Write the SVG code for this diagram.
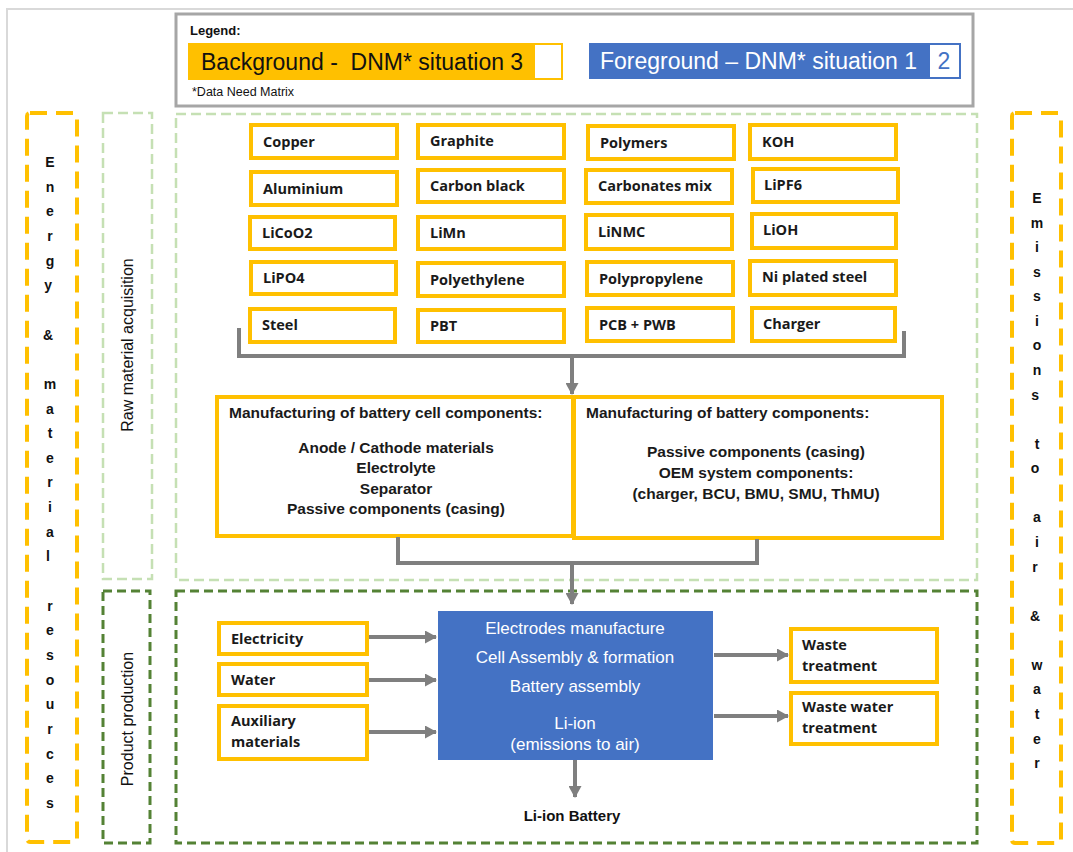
<svg xmlns="http://www.w3.org/2000/svg" width="1073" height="852" viewBox="0 0 1073 852">
<defs>
<marker id="ah" markerUnits="userSpaceOnUse" markerWidth="12" markerHeight="13" refX="11" refY="6.5" orient="auto" viewBox="0 0 12 13">
<path d="M0,0 L12,6.5 L0,13 Z" fill="#7F7F7F"/>
</marker>
<style>
.mat rect{fill:#fff;stroke:#FFC000;stroke-width:4}
.mat text{font-family:"Open Sans","Liberation Sans",sans-serif;font-weight:700;font-size:14.5px;fill:#1a1a1a}
.mf{font-family:"Liberation Sans",Arial,sans-serif;font-weight:700;font-size:15.5px;fill:#1a1a1a}
.blue{font-family:"Liberation Sans",Arial,sans-serif;font-size:17px;fill:#fff}
.side{font-family:"Liberation Sans",Arial,sans-serif;font-weight:700;font-size:14px;fill:#111}
.stage{font-family:"Liberation Sans",Arial,sans-serif;font-size:16px;fill:#111}
.conn{fill:none;stroke:#7F7F7F;stroke-width:4}
.leg{font-family:"Liberation Sans",Arial,sans-serif;font-size:23px}
</style>
</defs>
<rect width="1073" height="852" fill="#fff"/>
<path d="M7,852 V9 H1073" fill="none" stroke="#D9D9D9" stroke-width="2"/>

<g id="legend">
<rect x="176" y="14" width="797" height="92" fill="#fff" stroke="#A6A6A6" stroke-width="3"/>
<text x="190" y="35" font-family="Liberation Sans,Arial,sans-serif" font-weight="700" font-size="13" fill="#111">Legend:</text>
<rect x="188" y="43" width="346" height="37" fill="#FFC000"/>
<rect x="534" y="44" width="28" height="35" fill="#fff" stroke="#FFC000" stroke-width="2"/>
<text class="leg" x="201" y="70" fill="#111" xml:space="preserve">Background -  DNM* situation 3</text>
<rect x="589" y="43" width="340" height="36" fill="#4472C4"/>
<rect x="929" y="44" width="31" height="34" fill="#fff" stroke="#4472C4" stroke-width="2"/>
<text class="leg" x="600" y="69" fill="#fff">Foreground – DNM* situation 1</text>
<text class="leg" x="944" y="69" text-anchor="middle" fill="#4472C4">2</text>
<text x="192" y="96" font-family="Liberation Sans,Arial,sans-serif" font-size="12.5" fill="#111">*Data Need Matrix</text>
</g>

<g id="energy-materials">
<rect x="27" y="113" width="50" height="729" rx="3" fill="none" stroke="#FFC000" stroke-width="4" stroke-dasharray="17 9"/>
<text class="side" text-anchor="middle">
<tspan x="50" y="167">E</tspan><tspan x="50" y="191.6">n</tspan><tspan x="50" y="216.3">e</tspan><tspan x="50" y="241">r</tspan><tspan x="50" y="265.6">g</tspan><tspan x="50" y="290.2">y</tspan>
<tspan x="50" y="339.5">&amp;</tspan>
<tspan x="50" y="388.8">m</tspan><tspan x="50" y="413.5">a</tspan><tspan x="50" y="438.1">t</tspan><tspan x="50" y="462.8">e</tspan><tspan x="50" y="487.4">r</tspan><tspan x="50" y="512">i</tspan><tspan x="50" y="536.7">a</tspan><tspan x="50" y="561.4">l</tspan>
<tspan x="50" y="610.7">r</tspan><tspan x="50" y="635.3">e</tspan><tspan x="50" y="660">s</tspan><tspan x="50" y="684.6">o</tspan><tspan x="50" y="709.3">u</tspan><tspan x="50" y="733.9">r</tspan><tspan x="50" y="758.6">c</tspan><tspan x="50" y="783.2">e</tspan><tspan x="50" y="807.9">s</tspan>
</text>
</g>

<g id="emissions">
<rect x="1012" y="113" width="49" height="730" rx="3" fill="none" stroke="#FFC000" stroke-width="4" stroke-dasharray="17 9"/>
<text class="side" text-anchor="middle">
<tspan x="1037" y="203">E</tspan><tspan x="1037" y="227.6">m</tspan><tspan x="1037" y="252.1">i</tspan><tspan x="1037" y="276.7">s</tspan><tspan x="1037" y="301.3">s</tspan><tspan x="1037" y="325.9">i</tspan><tspan x="1037" y="350.4">o</tspan><tspan x="1037" y="375">n</tspan><tspan x="1037" y="399.6">s</tspan>
<tspan x="1037" y="448.7">t</tspan><tspan x="1037" y="473.3">o</tspan>
<tspan x="1037" y="522.4">a</tspan><tspan x="1037" y="547">i</tspan><tspan x="1037" y="571.6">r</tspan>
<tspan x="1037" y="620.7">&amp;</tspan>
<tspan x="1037" y="669.8">w</tspan><tspan x="1037" y="694.4">a</tspan><tspan x="1037" y="719">t</tspan><tspan x="1037" y="743.5">e</tspan><tspan x="1037" y="768.1">r</tspan>
</text>
</g>

<g id="raw-material-stage">
<rect x="103" y="113" width="49" height="466" fill="none" stroke="#C5E0B4" stroke-width="2.5" stroke-dasharray="10 5"/>
<text class="stage" transform="translate(133,345) rotate(-90)" text-anchor="middle">Raw material acquisition</text>
<rect x="176" y="114" width="801" height="466" fill="none" stroke="#C5E0B4" stroke-width="2.5" stroke-dasharray="10 5"/>
</g>

<g id="product-production-stage">
<rect x="103" y="591" width="47" height="252" fill="none" stroke="#548235" stroke-width="3" stroke-dasharray="9 5"/>
<text class="stage" transform="translate(133,719) rotate(-90)" text-anchor="middle">Product production</text>
<rect x="176" y="591" width="801" height="252" fill="none" stroke="#548235" stroke-width="3" stroke-dasharray="9 5"/>
</g>

<g id="materials" class="mat">
<g id="copper"><rect x="251" y="125" width="146" height="33"/><text x="263" y="147">Copper</text></g>
<g id="aluminium"><rect x="251" y="172" width="146" height="33"/><text x="263" y="194">Aluminium</text></g>
<g id="licoo2"><rect x="250" y="217" width="145" height="32"/><text x="262" y="238">LiCoO2</text></g>
<g id="lipo4"><rect x="251" y="262" width="145" height="32"/><text x="263" y="283">LiPO4</text></g>
<g id="steel"><rect x="250" y="309" width="145" height="33"/><text x="262" y="330">Steel</text></g>
<g id="graphite"><rect x="418" y="125" width="146" height="33"/><text x="430" y="146">Graphite</text></g>
<g id="carbon-black"><rect x="418" y="170" width="146" height="32"/><text x="430" y="191">Carbon black</text></g>
<g id="limn"><rect x="418" y="217" width="146" height="32"/><text x="430" y="238">LiMn</text></g>
<g id="polyethylene"><rect x="418" y="263" width="146" height="33"/><text x="430" y="285">Polyethylene</text></g>
<g id="pbt"><rect x="418" y="310" width="146" height="32"/><text x="430" y="331">PBT</text></g>
<g id="polymers"><rect x="588" y="126" width="146" height="33"/><text x="600" y="148">Polymers</text></g>
<g id="carbonates-mix"><rect x="586" y="170" width="146" height="33"/><text x="598" y="191">Carbonates mix</text></g>
<g id="linmc"><rect x="586" y="215" width="146" height="34"/><text x="598" y="237">LiNMC</text></g>
<g id="polypropylene"><rect x="587" y="262" width="146" height="33"/><text x="599" y="284">Polypropylene</text></g>
<g id="pcb-pwb"><rect x="587" y="308" width="146" height="33"/><text x="599" y="330">PCB + PWB</text></g>
<g id="koh"><rect x="750" y="125" width="146" height="34"/><text x="762" y="147">KOH</text></g>
<g id="lipf6"><rect x="753" y="169" width="145" height="33"/><text x="764" y="190">LiPF6</text></g>
<g id="lioh"><rect x="752" y="214" width="144" height="34"/><text x="763" y="235">LiOH</text></g>
<g id="ni-plated-steel"><rect x="750" y="261" width="146" height="34"/><text x="762" y="282">Ni plated steel</text></g>
<g id="charger"><rect x="752" y="308" width="143" height="33"/><text x="763" y="329">Charger</text></g>
</g>

<g id="cell-components">
<rect x="217" y="397" width="356" height="139" fill="#fff" stroke="#FFC000" stroke-width="4"/>
<text class="mf" x="229" y="418">Manufacturing of battery cell components:</text>
<text class="mf" text-anchor="middle"><tspan x="396" y="453">Anode / Cathode materials</tspan><tspan x="396" y="473">Electrolyte</tspan><tspan x="396" y="494">Separator</tspan><tspan x="396" y="514">Passive components (casing)</tspan></text>
</g>
<g id="battery-components">
<rect x="574" y="397" width="368" height="141" fill="#fff" stroke="#FFC000" stroke-width="4"/>
<text class="mf" x="586" y="418">Manufacturing of battery components:</text>
<text class="mf" text-anchor="middle"><tspan x="756" y="457">Passive components (casing)</tspan><tspan x="756" y="478">OEM system components:</tspan><tspan x="756" y="499">(charger, BCU, BMU, SMU, ThMU)</tspan></text>
</g>

<g id="process">
<rect x="438" y="611" width="275" height="149" fill="#4472C4"/>
<text class="blue" text-anchor="middle"><tspan x="575" y="634">Electrodes manufacture</tspan><tspan x="575" y="663">Cell Assembly &amp; formation</tspan><tspan x="575" y="692">Battery assembly</tspan><tspan x="575" y="729">Li-ion</tspan><tspan x="575" y="750">(emissions to air)</tspan></text>
</g>

<g id="inputs" class="mat">
<g id="electricity"><rect x="219" y="623" width="148" height="31"/><text x="231" y="644">Electricity</text></g>
<g id="water"><rect x="219" y="664" width="148" height="31"/><text x="231" y="685">Water</text></g>
<g id="auxiliary"><rect x="219" y="706" width="148" height="53"/><text x="231" y="726">Auxiliary</text><text x="231" y="747">materials</text></g>
</g>
<g id="outputs" class="mat">
<g id="waste"><rect x="791" y="629" width="146" height="53"/><text x="802" y="650">Waste</text><text x="802" y="671">treatment</text></g>
<g id="waste-water"><rect x="791" y="693" width="146" height="51"/><text x="802" y="712">Waste water</text><text x="802" y="733">treatment</text></g>
</g>

<g id="product">
<text x="572" y="821" text-anchor="middle" font-family="Liberation Sans,Arial,sans-serif" font-weight="700" font-size="15" fill="#111">Li-ion Battery</text>
</g>

<g id="connectors">
<path class="conn" d="M239,328 V356 H904 V331"/>
<path class="conn" d="M572,356 V394" marker-end="url(#ah)"/>
<path class="conn" d="M398,537 V563 H757 V539"/>
<path class="conn" d="M572,563 V604" marker-end="url(#ah)"/>
<path class="conn" d="M369,637 H436" marker-end="url(#ah)"/>
<path class="conn" d="M369,680 H436" marker-end="url(#ah)"/>
<path class="conn" d="M369,732 H436" marker-end="url(#ah)"/>
<path class="conn" d="M714,655 H788" marker-end="url(#ah)"/>
<path class="conn" d="M714,716 H788" marker-end="url(#ah)"/>
<path class="conn" d="M575,760 V797" marker-end="url(#ah)"/>
</g>
</svg>
